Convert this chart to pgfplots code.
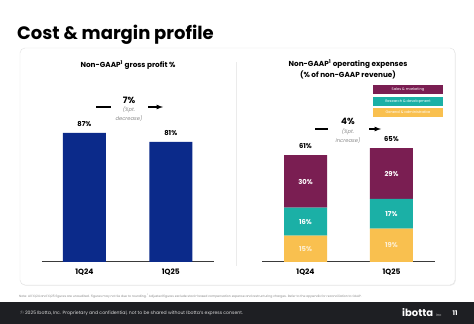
\documentclass[border=0pt]{standalone}
\usepackage{fontspec}
\setmainfont{Poppins}
\usepackage{pgfplots}
\pgfplotsset{compat=1.18}
\usetikzlibrary{shadows}
\definecolor{navy}{HTML}{0B2A8A}
\definecolor{maroon}{HTML}{7A1E52}
\definecolor{teal}{HTML}{1BB0A6}
\definecolor{gold}{HTML}{F9C04F}
\definecolor{footer}{HTML}{1E1F23}
\definecolor{axisgray}{HTML}{3A3A3A}
\definecolor{notegray}{HTML}{8A8A8A}
\tikzset{lbl/.style={font=\fontsize{6.8}{8}\selectfont\bfseries}}
\pgfplotsset{
  rightgeom/.style={at={(262pt,62pt)}, anchor=south west, scale only axis,
    width=173pt, height=175pt, xmin=-0.506, xmax=1.506, ymin=0, ymax=100, clip=false},
}
\begin{document}
\begin{tikzpicture}
\begin{scope}[x=1pt,y=1pt]
\path[use as bounding box] (0,0) rectangle (474,324);
\fill[white] (0,0) rectangle (474,324);
% card
\draw[black!12, fill=white, rounded corners=5pt, drop shadow={opacity=0.12, shadow xshift=0.8pt, shadow yshift=-0.8pt}] (20,39) rectangle (455,276);
\draw[black!8, line width=0.6pt] (236,58) -- (236,262);
% title
\node[anchor=base west, inner sep=0, font=\fontsize{18}{21}\selectfont\bfseries] at (17,284) {Cost \& margin profile};
% footer
\fill[footer] (0,0) rectangle (474,22);
\node[anchor=west, inner sep=0, text=white!85!black, font=\fontsize{4.6}{5}\selectfont] at (20,11) {\copyright\ 2025 Ibotta, Inc. Proprietary and confidential, not to be shared without Ibotta's express consent.};
\node[anchor=base west, inner sep=0, text=white, font=\fontsize{10}{11}\selectfont\bfseries] at (402,7.5) {ibotta};
\node[anchor=base west, inner sep=0, text=white!80!black, font=\fontsize{3.5}{4}\selectfont] at (436,7.5) {inc};
\node[anchor=center, inner sep=0, text=white, font=\fontsize{6.5}{7}\selectfont\bfseries] at (455,11) {11};
% footnote
\node[anchor=west, inner sep=0, text=notegray, font=\fontsize{3.1}{4}\selectfont] at (19,27.5) {Note: All 1Q24 and 1Q25 figures are unaudited. Figures may not tie due to rounding. \textsuperscript{1}Adjusted figures exclude stock-based compensation expense and restructuring charges. Refer to the appendix for reconciliation to GAAP.};
% panel titles
\node[font=\fontsize{7.3}{9}\selectfont\bfseries, inner sep=0] at (128,259) {Non-GAAP\textsuperscript{1} gross profit \%};
\node[font=\fontsize{7.3}{10.5}\selectfont\bfseries, inner sep=0, align=center] at (348,254.5) {Non-GAAP\textsuperscript{1} operating expenses\\(\% of non-GAAP revenue)};
% left annotation
\draw[line width=1.2pt] (96,217) -- (111,217);
\draw[line width=1.2pt, -latex] (148,217) -- (163,217);
\node[font=\fontsize{8.8}{10}\selectfont\bfseries, inner sep=0] at (129,224) {7\%};
\node[font=\fontsize{5.2}{6}\selectfont\itshape, text=notegray, inner sep=0] at (129,214) {(\%pt.};
\node[font=\fontsize{5.2}{6}\selectfont\itshape, text=notegray, inner sep=0] at (129,205) {decrease)};
% right annotation
\draw[line width=1.2pt] (315,195) -- (328,195);
\draw[line width=1.2pt, -latex] (369,195) -- (381,195);
\node[font=\fontsize{8.8}{10}\selectfont\bfseries, inner sep=0] at (348,202.3) {4\%};
\node[font=\fontsize{5.2}{6}\selectfont\itshape, text=notegray, inner sep=0] at (348,192.3) {(\%pt.};
\node[font=\fontsize{5.2}{6}\selectfont\itshape, text=notegray, inner sep=0] at (348,183.3) {increase)};
% legend boxes
\node[fill=maroon, text=white, minimum width=70pt, minimum height=9pt, inner sep=0, font=\fontsize{3.6}{4}\selectfont] at (408,234.5) {Sales \& marketing};
\node[fill=teal, text=white, minimum width=70pt, minimum height=9pt, inner sep=0, font=\fontsize{3.6}{4}\selectfont] at (408,222.5) {Research \& development};
\node[fill=gold, text=white, minimum width=70pt, minimum height=9pt, inner sep=0, font=\fontsize{3.6}{4}\selectfont] at (408,211.5) {General \& administrative};
\end{scope}

% left chart
\begin{axis}[at={(42pt,62pt)}, anchor=south west, scale only axis,
  width=172pt, height=148.3pt,
  xmin=-0.49, xmax=1.5, ymin=0, ymax=100,
  ybar, bar width=43pt,
  axis x line=bottom, x axis line style={-, axisgray, line width=1pt},
  hide y axis,
  xtick={0,1}, xticklabels={1Q24,1Q25}, major tick length=0,
  xticklabel style={font=\fontsize{7.5}{8}\selectfont\bfseries, yshift=-3pt},
  /pgf/number format/assume math mode=true,
  nodes near coords={\pgfmathprintnumber{\pgfplotspointmeta}\%},
  every node near coord/.append style={lbl, anchor=south, yshift=3pt},
  clip=false]
\addplot[fill=navy, draw=none] coordinates {(0,87) (1,81)};
\end{axis}

% right chart
\begin{axis}[rightgeom,
  ybar stacked, bar width=43pt,
  axis x line=bottom, x axis line style={-, axisgray, line width=1pt},
  hide y axis,
  xtick={0,1}, xticklabels={1Q24,1Q25}, major tick length=0,
  xticklabel style={font=\fontsize{7.5}{8}\selectfont\bfseries, yshift=-3pt}]
\addplot[fill=gold, draw=none] coordinates {(0,15) (1,19)};
\addplot[fill=teal, draw=none] coordinates {(0,16) (1,17)};
\addplot[fill=maroon, draw=none] coordinates {(0,30) (1,29)};
\end{axis}
% right chart labels overlay
\begin{axis}[rightgeom, hide axis,
  /pgf/number format/assume math mode=true,
  point meta=explicit,
  nodes near coords={\pgfmathprintnumber{\pgfplotspointmeta}\%},
  every node near coord/.append style={lbl, anchor=center}]
\addplot[only marks, mark=none, every node near coord/.append style={text=white!75!gold}] coordinates {(0,7.5) [15] (1,9.5) [19]};
\addplot[only marks, mark=none, every node near coord/.append style={text=white}] coordinates {(0,23) [16] (1,27.5) [17]};
\addplot[only marks, mark=none, every node near coord/.append style={text=white}] coordinates {(0,46) [30] (1,50.5) [29]};
\addplot[only marks, mark=none, every node near coord/.append style={text=black, anchor=south, yshift=3pt}] coordinates {(0,61) [61] (1,65) [65]};
\end{axis}
\end{tikzpicture}
\end{document}
